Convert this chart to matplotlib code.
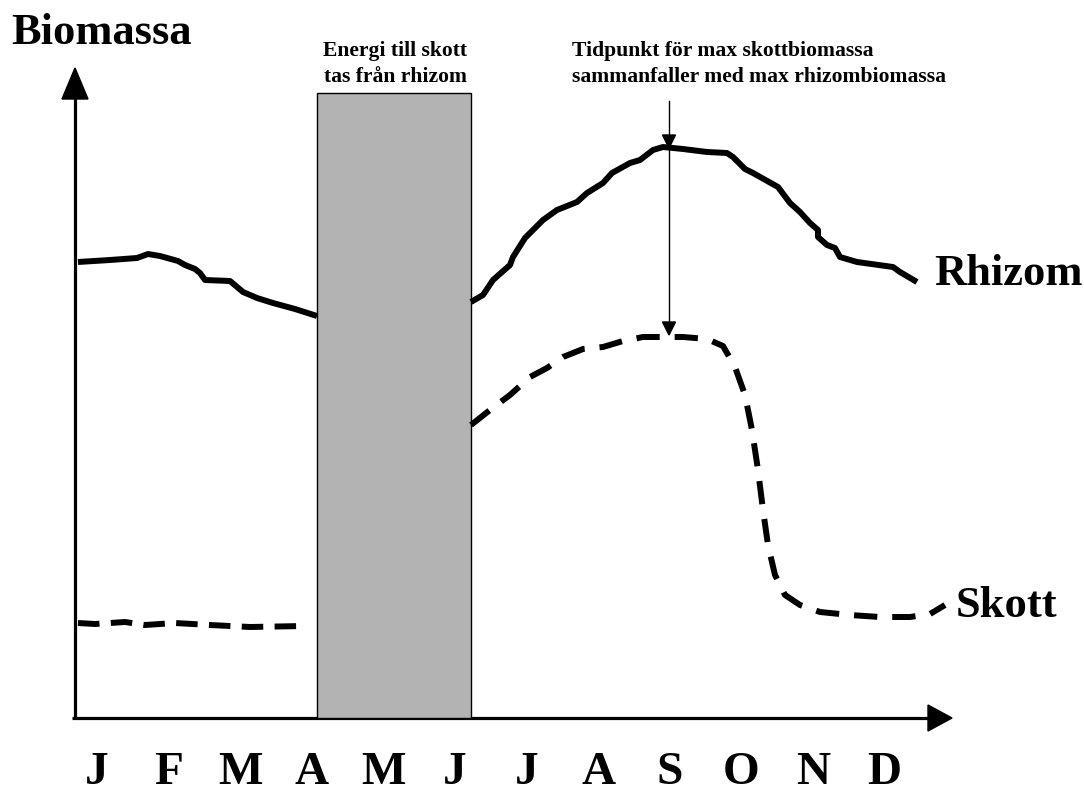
import matplotlib
matplotlib.use("Agg")
import matplotlib.pyplot as plt
from matplotlib.patches import Rectangle, Polygon

# Canvas is laid out in picture pixels (x to the right, y downwards)
W, H = 1084, 800

months = ["J", "F", "M", "A", "M", "J", "J", "A", "S", "O", "N", "D"]
month_x0, month_step = 97, 71.6

# Rhizom biomass, before and after the spring period
rhizom_before_x = [78, 110, 137, 148, 160, 178, 185, 195, 200, 205, 230, 243, 257, 273, 295, 317]
rhizom_before_y = [262, 260, 258, 254, 256, 261, 265, 269, 273, 280, 281, 292, 298, 303, 309, 316]
rhizom_after_x = [471, 483, 493, 510, 513, 525, 530, 543, 557, 577, 587, 603, 612, 630, 640,
                  653, 663, 683, 707, 727, 733, 745, 753, 778, 790, 800, 810, 818, 818, 827,
                  835, 840, 857, 893, 900, 917]
rhizom_after_y = [302, 295, 280, 265, 257, 238, 233, 220, 210, 202, 193, 183, 173, 163, 160,
                  150, 147, 149, 152, 153, 157, 169, 173, 187, 203, 212, 223, 230, 237, 245,
                  248, 257, 262, 267, 272, 282]

# Skott (shoot) biomass
skott_before_x = [78, 95, 125, 145, 175, 210, 250, 305]
skott_before_y = [623, 624, 622, 625, 623, 625, 627, 626]
skott_after_x = [471, 490, 510, 530, 547, 563, 583, 603, 623, 643, 663, 683, 707, 723, 735,
                 745, 752, 758, 763, 768, 775, 785, 800, 820, 850, 880, 910, 930, 945]
skott_after_y = [425, 410, 395, 377, 368, 357, 349, 347, 341, 337, 337, 337, 339, 346, 367,
                 395, 430, 470, 510, 545, 575, 595, 605, 612, 615, 617, 617, 614, 605]

# Period when shoot energy comes from the rhizome
band_x = (317, 471)
band_top = 93
axis_x, axis_y = 75, 718
peak_x = 669

fig = plt.figure(figsize=(W / 100, H / 100), dpi=100)
ax = fig.add_axes([0, 0, 1, 1])
ax.set_xlim(0, W)
ax.set_ylim(H, 0)
ax.axis("off")

serif = "Liberation Serif"

# axes with arrow heads
ax.plot([axis_x, axis_x], [axis_y + 1, 96], color="k", lw=2.3, solid_capstyle="butt")
ax.plot([axis_x - 3, 930], [axis_y, axis_y], color="k", lw=2.3, solid_capstyle="butt")
ax.add_patch(Polygon([[62, 99], [88, 99], [75, 68]], closed=True, color="k"))
ax.add_patch(Polygon([[928, 705], [928, 731], [952, 718]], closed=True, color="k"))

# grey band
ax.add_patch(Rectangle((band_x[0], band_top), band_x[1] - band_x[0], axis_y - band_top,
                       facecolor="#b3b3b3", edgecolor="k", lw=1, zorder=3))

kw = dict(color="k", lw=4.3, solid_joinstyle="round", solid_capstyle="butt", zorder=4)
ax.plot(rhizom_before_x, rhizom_before_y, **kw)
ax.plot(rhizom_after_x, rhizom_after_y, **kw)

dkw = dict(color="k", lw=4.3, dash_capstyle="butt", zorder=4)
ax.plot(skott_before_x, skott_before_y, dashes=(3.6, 1.9), **dkw)
ax.plot(skott_after_x, skott_after_y, dashes=(3.9, 2.5), **dkw)

# pointer line from the note down to both peaks
ax.plot([peak_x, peak_x], [101, 322], color="k", lw=1, zorder=5)
ax.add_patch(Polygon([[peak_x - 6.5, 135], [peak_x + 6.5, 135], [peak_x, 148]],
                     closed=True, color="k", zorder=5))
ax.add_patch(Polygon([[peak_x - 6.5, 322], [peak_x + 6.5, 322], [peak_x, 335]],
                     closed=True, color="k", zorder=5))

# texts
big = dict(fontsize=32, fontweight="bold", family=serif, va="baseline")
ax.text(11, 44, "Biomassa", ha="left", **big)
ax.text(934, 285, "Rhizom", ha="left", **big)
ax.text(956, 617, "Skott", ha="left", **big)

note = dict(fontsize=15.6, fontweight="bold", family=serif, va="baseline")
ax.text(395, 56, "Energi till skott", ha="center", **note)
ax.text(395, 82, "tas från rhizom", ha="center", **note)
ax.text(572, 56, "Tidpunkt för max skottbiomassa", ha="left", **note)
ax.text(572, 82, "sammanfaller med max rhizombiomassa", ha="left", **note)

for i, m in enumerate(months):
    ax.text(month_x0 + i * month_step, 773, m, fontsize=34, fontweight="bold",
            family=serif, ha="center", va="center")

fig.savefig("out.png", dpi=100)
